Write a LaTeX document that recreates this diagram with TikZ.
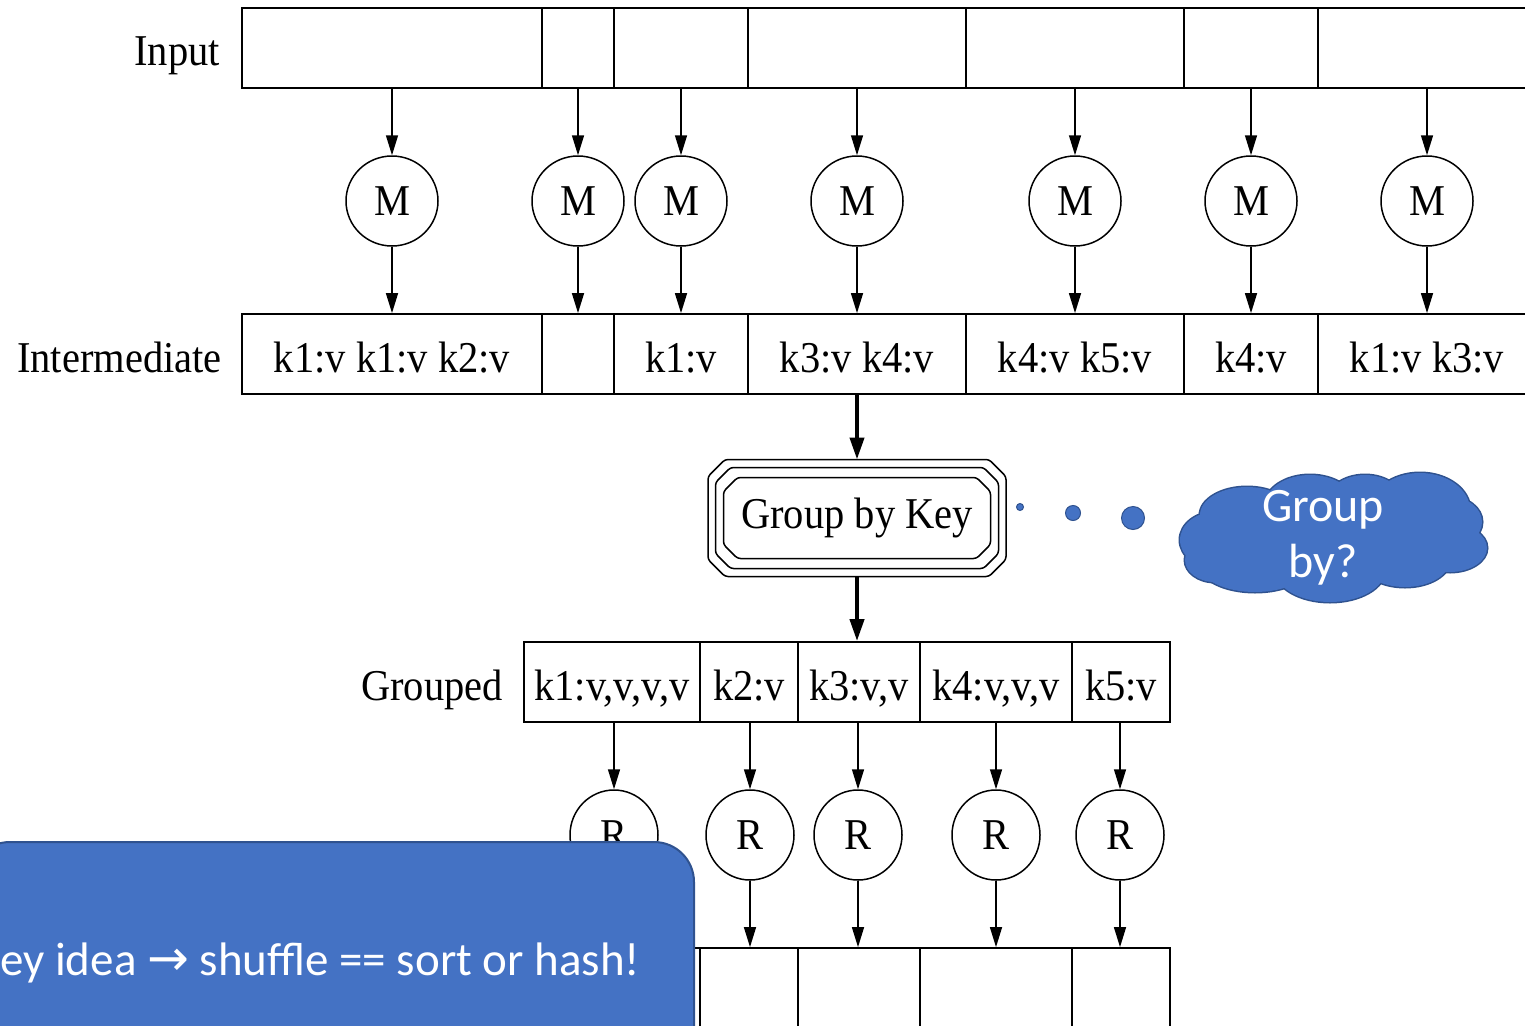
\documentclass[tikz,border=0pt]{standalone}
\usepackage{fontspec}
\setmainfont{Liberation Serif}[FakeStretch=0.92]
\newfontfamily\calibri{Carlito}
\newfontfamily\symb{DejaVu Sans}
\usetikzlibrary{arrows.meta,shapes.geometric}
\definecolor{slideblue}{HTML}{4472C4}
\definecolor{slideedge}{HTML}{2F528F}
% octagonal outline around a named rectangular node
\newcommand\chamferoutline[2]{%
  \draw[line width=1.5pt, rounded corners=3pt]
    ([xshift=#2]#1.north west) -- ([xshift=-#2]#1.north east) --
    ([yshift=-#2]#1.north east) -- ([yshift=#2]#1.south east) --
    ([xshift=-#2]#1.south east) -- ([xshift=#2]#1.south west) --
    ([yshift=#2]#1.south west) -- ([yshift=-#2]#1.north west) -- cycle;}
% puffs of the thought cloud: centre x, centre y, x radius, y radius
\newcommand\cloudpuffs{1215/540/35/28, 1247/515/47/28, 1310/505/45/30, 1365/505/40/30,
  1420/510/50/37, 1450/522/32/25, 1450/548/37/24, 1405/560/45/27, 1330/570/55/32,
  1255/565/55/27, 1215/560/30/22, 1333/537/110/45}
\begin{document}
\begin{tikzpicture}[x=1pt,y=-1pt,
  serif/.style={font=\fontsize{44}{48}\selectfont},
  cell/.style={draw, line width=1.8pt, minimum height=80pt, inner sep=0pt, serif,
               text height=36pt, text depth=0pt},
  worker/.style={ellipse, draw, line width=1.5pt, minimum width=92pt, minimum height=90pt, inner sep=0pt, serif},
  rowlabel/.style={anchor=base east, inner sep=0pt, serif},
  frame/.style={rectangle, inner sep=0pt, outer sep=0pt},
  arr/.style={line width=1.5pt, -{Triangle[length=20pt,width=12pt]}},
  boldarr/.style={line width=4pt, -{Triangle[length=22pt,width=14pt]}},
  dot/.style={circle, fill=slideblue, draw=slideedge, line width=1pt, inner sep=0pt},
]
\useasboundingbox (0,0) rectangle (1525,1025);
\clip (0,0) rectangle (1525,1025);

% input splits
\node[rowlabel] (inlbl) at (220,66) {Input};
\node[cell, minimum width=300pt] (in1) at (392,48) {};
\node[cell, minimum width=72pt]  (in2) at (578,48) {};
\node[cell, minimum width=134pt] (in3) at (681,48) {};
\node[cell, minimum width=218pt] (in4) at (857,48) {};
\node[cell, minimum width=218pt] (in5) at (1075,48) {};
\node[cell, minimum width=134pt] (in6) at (1251,48) {};
\node[cell, minimum width=218pt] (in7) at (1427,48) {};

% map tasks
\foreach \i/\x in {1/392,2/578,3/681,4/857,5/1075,6/1251,7/1427}
  \node[worker] (m\i) at (\x,201) {M};

% intermediate key/value pairs
\node[rowlabel] (imlbl) at (222,372) {Intermediate};
\node[cell, minimum width=300pt] (im1) at (392,354) {k1:v k1:v k2:v};
\node[cell, minimum width=72pt]  (im2) at (578,354) {};
\node[cell, minimum width=134pt] (im3) at (681,354) {k1:v};
\node[cell, minimum width=218pt] (im4) at (857,354) {k3:v k4:v};
\node[cell, minimum width=218pt] (im5) at (1075,354) {k4:v k5:v};
\node[cell, minimum width=134pt] (im6) at (1251,354) {k4:v};
\node[cell, minimum width=218pt] (im7) at (1427,354) {k1:v k3:v};

\foreach \i in {1,...,7} {
  \draw[arr] (in\i.south) -- (m\i.north);
  \draw[arr] (m\i.south) -- (im\i.north);
}

% group by key stage (triple octagon)
\node[frame, minimum width=298pt, minimum height=117pt] (grpo) at (857,518) {};
\node[frame, minimum width=283pt, minimum height=101pt] (grpm) at (857,518) {};
\node[frame, minimum width=267pt, minimum height=81pt, serif] (grp) at (857,518) {Group by Key};
\chamferoutline{grpo}{17pt}
\chamferoutline{grpm}{15pt}
\chamferoutline{grp}{14pt}

\draw[boldarr] (im4.south) -- (grpo.north);

% thought bubble: dots and cloud (outline of the union of the puffs)
\node[dot, minimum size=7pt]  (d1) at (1020,507) {};
\node[dot, minimum size=15pt] (d2) at (1073,513) {};
\node[dot, minimum size=23pt] (d3) at (1133,518) {};
\foreach \cx/\cy/\rx/\ry in \cloudpuffs
  \draw[slideedge, line width=3pt] (\cx,\cy) ellipse [x radius=\rx, y radius=\ry];
\foreach \cx/\cy/\rx/\ry in \cloudpuffs
  \fill[slideblue] (\cx,\cy) ellipse [x radius=\rx, y radius=\ry];
\node[align=center, text=white, inner sep=0pt, font=\calibri\fontsize{48}{56}\selectfont]
  (cld) at (1323,538) {Group\\by?};

% grouped values
\node[rowlabel] (grlbl) at (503,700) {Grouped};
\node[cell, minimum width=176pt] (g1) at (612,682) {k1:v,v,v,v};
\node[cell, minimum width=98pt]  (g2) at (749,682) {k2:v};
\node[cell, minimum width=122pt] (g3) at (859,682) {k3:v,v};
\node[cell, minimum width=152pt] (g4) at (996,682) {k4:v,v,v};
\node[cell, minimum width=98pt]  (g5) at (1121,682) {k5:v};

\draw[boldarr] (grpo.south) -- (grpo.south |- g3.north);

% reduce tasks and output
\foreach \i/\x in {1/614,2/750,3/858,4/996,5/1120}
  \node[worker, minimum width=88pt] (r\i) at (\x,835) {R};
\node[cell, minimum width=176pt] (o1) at (612,988) {};
\node[cell, minimum width=98pt]  (o2) at (749,988) {};
\node[cell, minimum width=122pt] (o3) at (859,988) {};
\node[cell, minimum width=152pt] (o4) at (996,988) {};
\node[cell, minimum width=98pt]  (o5) at (1121,988) {};

\foreach \i in {1,...,5} {
  \draw[arr] (g\i.south -| r\i) -- (r\i.north);
  \draw[arr] (r\i.south) -- (r\i |- o\i.north);
}

% callout panel
\draw[fill=slideblue, draw=slideedge, line width=2pt, rounded corners=40pt]
  (-30,1060) -- (-30,842) -- (694,842) -- (694,1060);
\node[anchor=base west, inner sep=0pt, text=white, font=\calibri\fontsize{47}{50}\selectfont]
  (keyidea) at (0,975) {ey idea {\symb\fontsize{50}{50}\selectfont →} shuffle == sort or hash!};
\end{tikzpicture}
\end{document}
